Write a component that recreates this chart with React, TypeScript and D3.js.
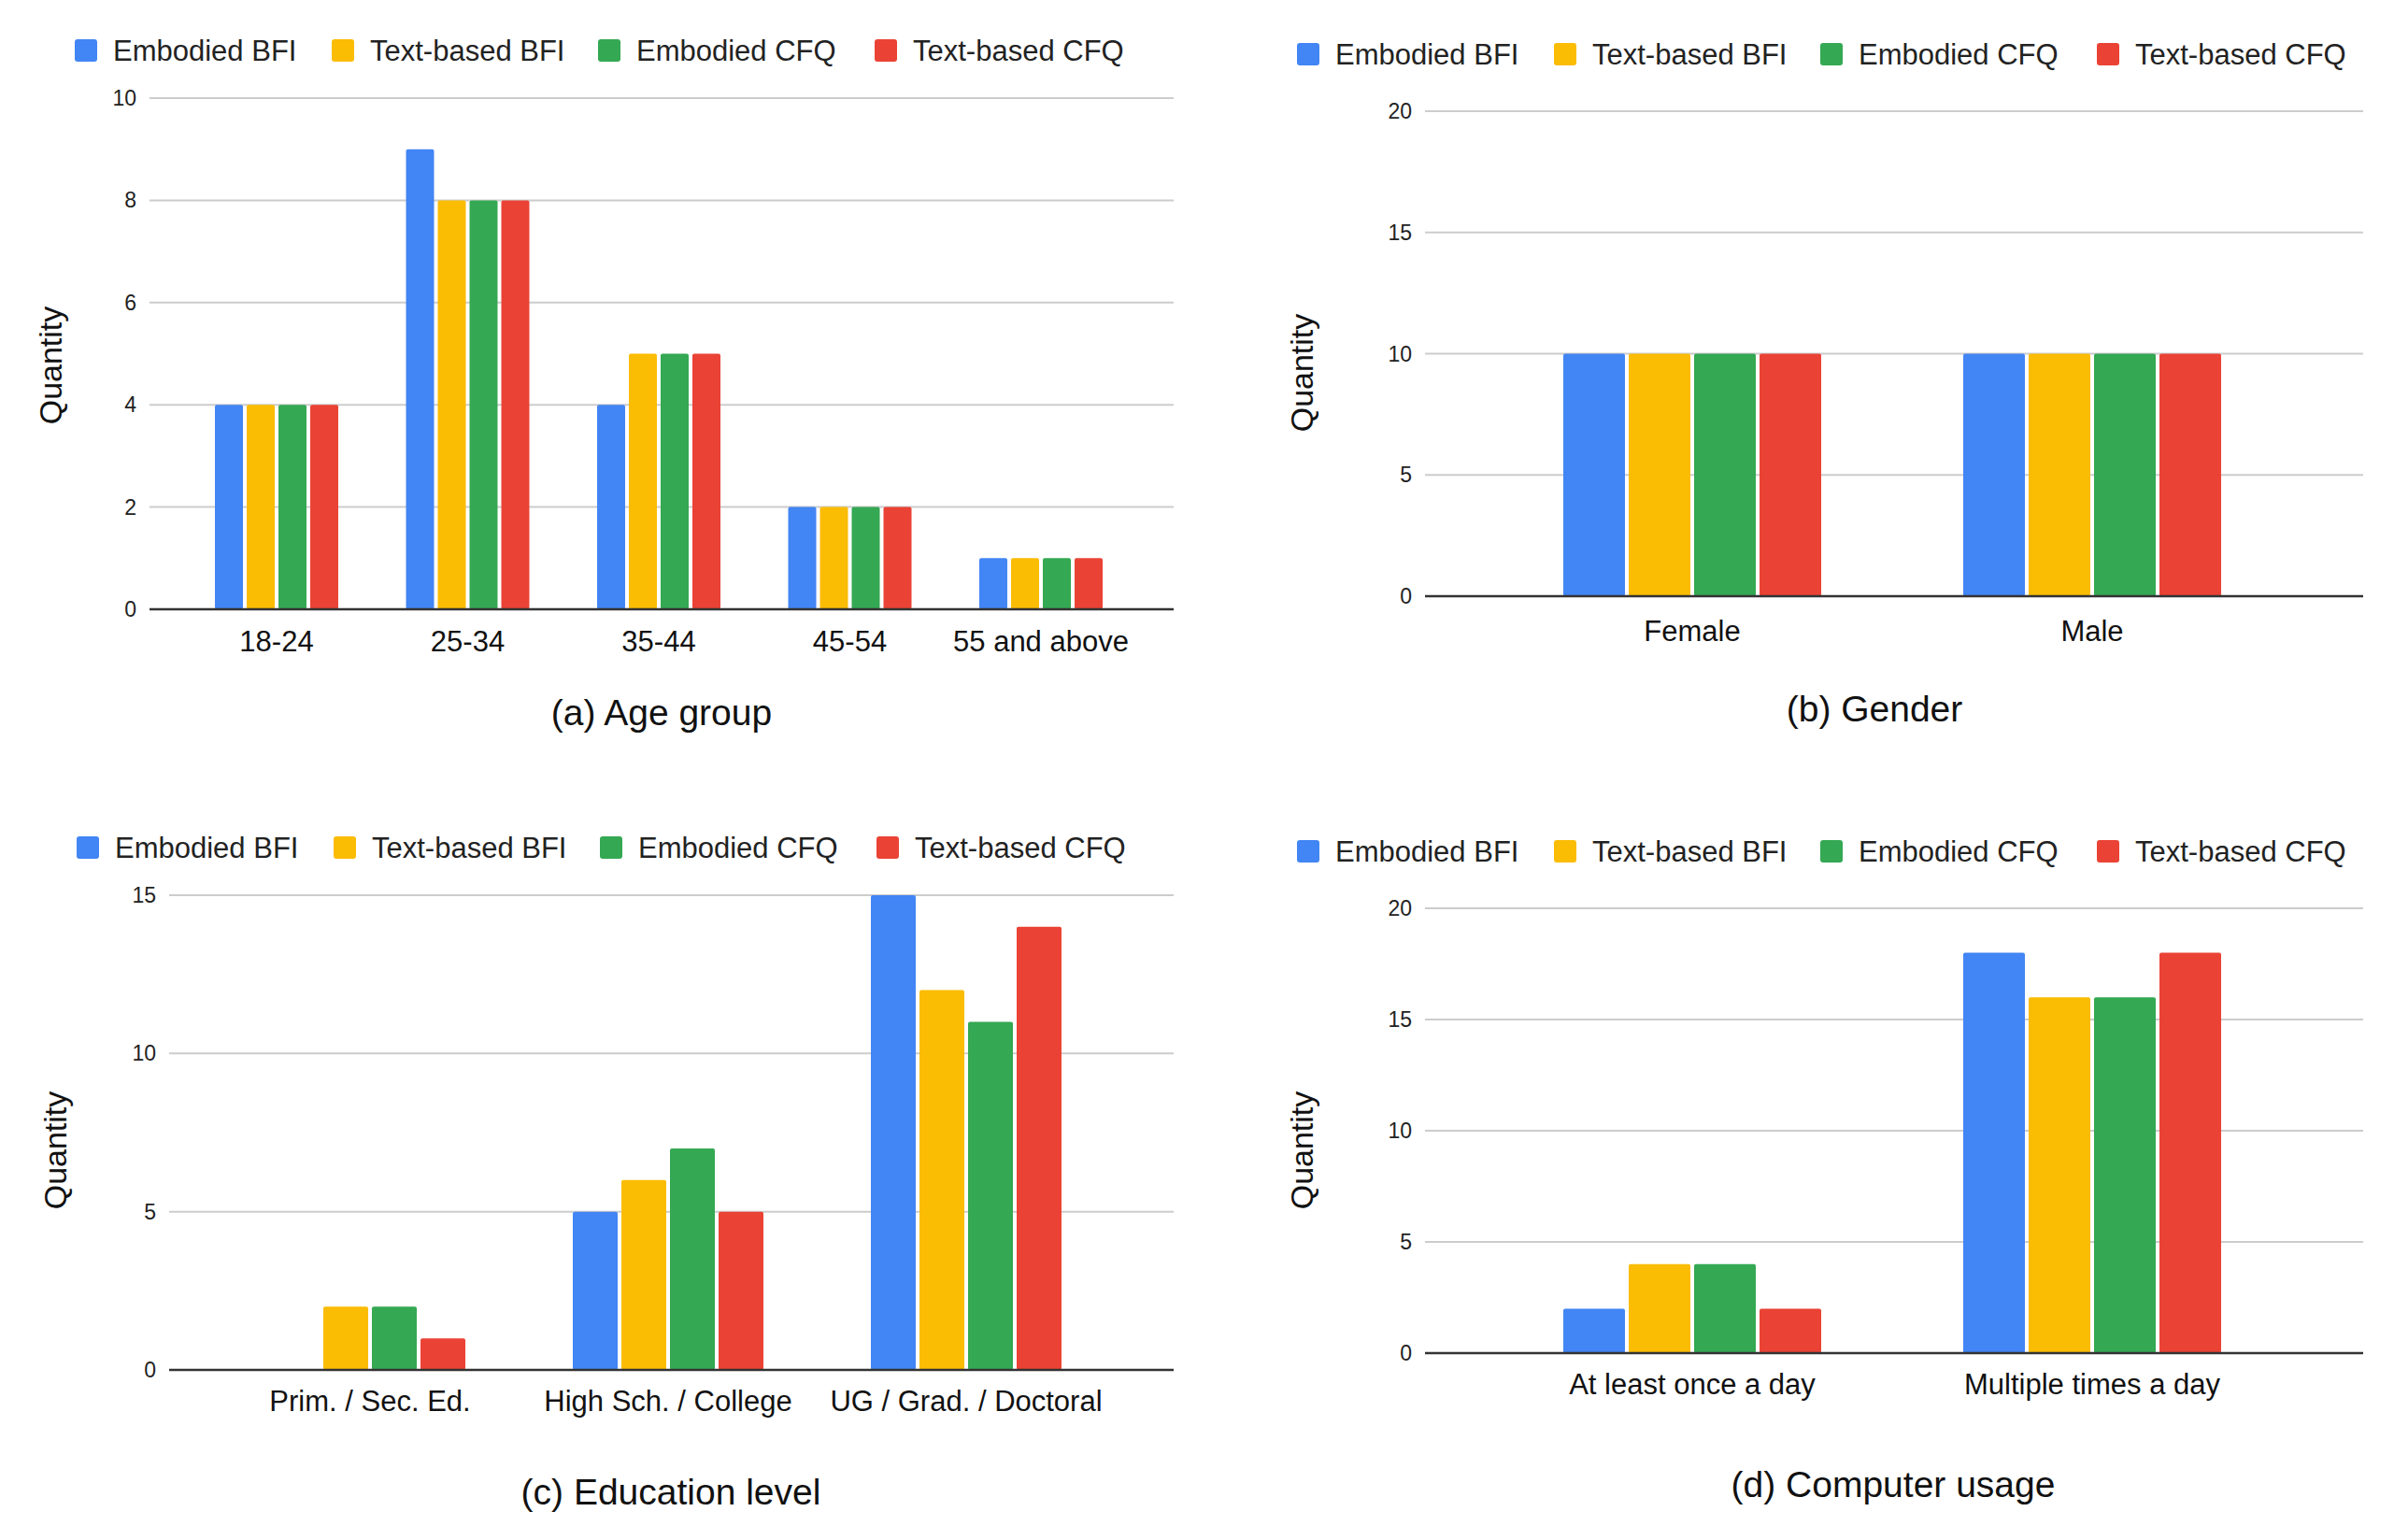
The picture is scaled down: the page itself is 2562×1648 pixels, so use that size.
import React from 'react'
import * as d3 from 'd3'

// series + colours shared by all four panels
const seriesNames = ['Embodied BFI', 'Text-based BFI', 'Embodied CFQ', 'Text-based CFQ']
const seriesColors = ['#4285F4', '#FBBC04', '#34A853', '#EA4335']

// (a) Age group
const ageGroups = ['18-24', '25-34', '35-44', '45-54', '55 and above']
const ageEmbodiedBFI = [4, 9, 4, 2, 1]
const ageTextBFI = [4, 8, 5, 2, 1]
const ageEmbodiedCFQ = [4, 8, 5, 2, 1]
const ageTextCFQ = [4, 8, 5, 2, 1]
const ageTicks = [0, 2, 4, 6, 8, 10]

// (b) Gender
const genders = ['Female', 'Male']
const genderEmbodiedBFI = [10, 10]
const genderTextBFI = [10, 10]
const genderEmbodiedCFQ = [10, 10]
const genderTextCFQ = [10, 10]
const genderTicks = [0, 5, 10, 15, 20]

// (c) Education level
const eduLevels = ['Prim. / Sec. Ed.', 'High Sch. / College', 'UG / Grad. / Doctoral']
const eduEmbodiedBFI = [0, 5, 15]
const eduTextBFI = [2, 6, 12]
const eduEmbodiedCFQ = [2, 7, 11]
const eduTextCFQ = [1, 5, 14]
const eduTicks = [0, 5, 10, 15]

// (d) Computer usage
const usageLevels = ['At least once a day', 'Multiple times a day']
const usageEmbodiedBFI = [2, 18]
const usageTextBFI = [4, 16]
const usageEmbodiedCFQ = [4, 16]
const usageTextCFQ = [2, 18]
const usageTicks = [0, 5, 10, 15, 20]

const FONT = '"Liberation Sans", Arial, Helvetica, sans-serif'
const legendOffsets = [0, 275, 560, 856]

interface PanelProps {
  title: string
  categories: string[]
  values: number[][]
  ticks: number[]
  legend: { x: number; y: number }
  grid: { x0: number; x1: number; yTop: number; yBase: number }
  bands: [number, number]
  pitch: number
  tickRight: number
  labelBaseline: number
  quantity: { x: number; y: number }
  titlePos: { x: number; y: number }
}

function Panel(p: PanelProps) {
  const yMax = p.ticks[p.ticks.length - 1]
  const y = d3.scaleLinear().domain([0, yMax]).range([p.grid.yBase, p.grid.yTop])
  const x = d3.scaleBand().domain(p.categories).range(p.bands).padding(0)
  const gap = 4
  const half = (p.pitch * seriesNames.length) / 2
  const inner = d3
    .scaleBand()
    .domain(seriesNames)
    .range([-half, half])
    .paddingInner(gap / p.pitch)
    .paddingOuter(gap / p.pitch / 2)

  return (
    <g>
      {/* legend */}
      {seriesNames.map((s, i) => (
        <g key={s}>
          <rect
            x={p.legend.x + legendOffsets[i]}
            y={p.legend.y - 12}
            width={24}
            height={24}
            rx={3}
            fill={seriesColors[i]}
          />
          <text
            x={p.legend.x + legendOffsets[i] + 41}
            y={p.legend.y}
            dy="0.35em"
            fontSize={31}
            fill="#222"
            fontFamily={FONT}
          >
            {s}
          </text>
        </g>
      ))}

      {/* gridlines + y tick labels */}
      {p.ticks.map((t) => (
        <g key={t}>
          {t !== 0 && (
            <line x1={p.grid.x0} x2={p.grid.x1} y1={y(t)} y2={y(t)} stroke="#cccccc" strokeWidth={2} />
          )}
          <text
            x={p.tickRight}
            y={y(t)}
            dy="0.35em"
            textAnchor="end"
            fontSize={23}
            fill="#222"
            fontFamily={FONT}
          >
            {t}
          </text>
        </g>
      ))}

      {/* bars */}
      {p.categories.map((c, ci) => {
        const cx = (x(c) as number) + x.bandwidth() / 2
        return (
          <g key={c}>
            {seriesNames.map((s, si) => {
              const v = p.values[si][ci]
              if (!v) return null
              return (
                <rect
                  key={s}
                  x={cx + (inner(s) as number)}
                  y={y(v)}
                  width={inner.bandwidth()}
                  height={y(0) - y(v)}
                  rx={2}
                  fill={seriesColors[si]}
                />
              )
            })}
            <text
              x={cx}
              y={p.labelBaseline}
              textAnchor="middle"
              fontSize={31}
              fill="#111"
              fontFamily={FONT}
            >
              {c}
            </text>
          </g>
        )
      })}

      {/* baseline */}
      <line x1={p.grid.x0} x2={p.grid.x1} y1={y(0)} y2={y(0)} stroke="#333333" strokeWidth={2.5} />

      {/* y axis title */}
      <text
        transform={`translate(${p.quantity.x}, ${p.quantity.y}) rotate(-90)`}
        textAnchor="middle"
        fontSize={34}
        fill="#111"
        fontFamily={FONT}
      >
        Quantity
      </text>

      {/* caption */}
      <text
        x={p.titlePos.x}
        y={p.titlePos.y}
        textAnchor="middle"
        fontSize={39}
        fill="#111"
        fontFamily={FONT}
      >
        {p.title}
      </text>
    </g>
  )
}

export default function App() {
  return (
    <svg
      width={2562}
      height={1648}
      style={{ position: 'absolute', left: 0, top: 0, background: '#fff' }}
    >
      <rect width={2562} height={1648} fill="#fff" />
      <Panel
        title="(a) Age group"
        categories={ageGroups}
        values={[ageEmbodiedBFI, ageTextBFI, ageEmbodiedCFQ, ageTextCFQ]}
        ticks={ageTicks}
        legend={{ x: 80, y: 54 }}
        grid={{ x0: 160, x1: 1256, yTop: 105, yBase: 652 }}
        bands={[193.75, 1216.25]}
        pitch={34}
        tickRight={146}
        labelBaseline={697}
        quantity={{ x: 66, y: 391 }}
        titlePos={{ x: 708, y: 776 }}
      />
      <Panel
        title="(b) Gender"
        categories={genders}
        values={[genderEmbodiedBFI, genderTextBFI, genderEmbodiedCFQ, genderTextCFQ]}
        ticks={genderTicks}
        legend={{ x: 1388, y: 58 }}
        grid={{ x0: 1525, x1: 2529, yTop: 119, yBase: 638 }}
        bands={[1597, 2453]}
        pitch={70}
        tickRight={1511}
        labelBaseline={686}
        quantity={{ x: 1405, y: 399 }}
        titlePos={{ x: 2006, y: 772 }}
      />
      <Panel
        title="(c) Education level"
        categories={eduLevels}
        values={[eduEmbodiedBFI, eduTextBFI, eduEmbodiedCFQ, eduTextCFQ]}
        ticks={eduTicks}
        legend={{ x: 82, y: 907 }}
        grid={{ x0: 181, x1: 1256, yTop: 958, yBase: 1466 }}
        bands={[236.5, 1193.5]}
        pitch={52}
        tickRight={167}
        labelBaseline={1510}
        quantity={{ x: 71, y: 1231 }}
        titlePos={{ x: 718, y: 1610 }}
      />
      <Panel
        title="(d) Computer usage"
        categories={usageLevels}
        values={[usageEmbodiedBFI, usageTextBFI, usageEmbodiedCFQ, usageTextCFQ]}
        ticks={usageTicks}
        legend={{ x: 1388, y: 911 }}
        grid={{ x0: 1525, x1: 2529, yTop: 972, yBase: 1448 }}
        bands={[1597, 2453]}
        pitch={70}
        tickRight={1511}
        labelBaseline={1492}
        quantity={{ x: 1405, y: 1231 }}
        titlePos={{ x: 2026, y: 1602 }}
      />
    </svg>
  )
}
